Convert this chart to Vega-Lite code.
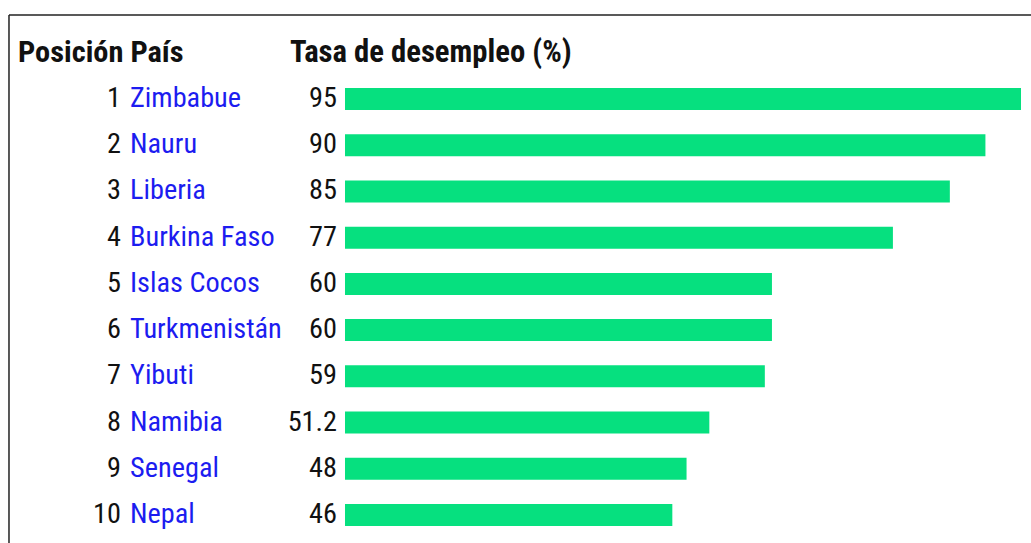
{
  "$schema": "https://vega.github.io/schema/vega-lite/v6.json",
  "width": 1031,
  "height": 543,
  "padding": 0,
  "autosize": {"type": "none"},
  "background": "white",
  "config": {"view": {"stroke": null}},
  "data": {
    "values": [
      {"rank": 1, "country": "Zimbabue", "value": 95, "label": "95"},
      {"rank": 2, "country": "Nauru", "value": 90, "label": "90"},
      {"rank": 3, "country": "Liberia", "value": 85, "label": "85"},
      {"rank": 4, "country": "Burkina Faso", "value": 77, "label": "77"},
      {"rank": 5, "country": "Islas Cocos", "value": 60, "label": "60"},
      {"rank": 6, "country": "Turkmenistán", "value": 60, "label": "60"},
      {"rank": 7, "country": "Yibuti", "value": 59, "label": "59"},
      {"rank": 8, "country": "Namibia", "value": 51.2, "label": "51.2"},
      {"rank": 9, "country": "Senegal", "value": 48, "label": "48"},
      {"rank": 10, "country": "Nepal", "value": 46, "label": "46"}
    ]
  },
  "resolve": {"scale": {"x": "shared", "y": "shared"}},
  "layer": [
    {
      "mark": {"type": "bar", "orient": "horizontal", "height": 22, "color": "#06E07F"},
      "encoding": {
        "y": {"field": "rank", "type": "quantitative", "scale": {"domain": [-1.1419, 10.606], "reverse": true, "nice": false, "zero": false, "padding": 0}, "axis": null},
        "x": {"field": "value", "type": "quantitative", "stack": null, "scale": {"domain": [-48.483, 96.405], "nice": false, "zero": false, "padding": 0}, "axis": null},
        "x2": {"datum": 0}
      }
    },
    {
      "mark": {"type": "text", "align": "right", "baseline": "middle", "font": "Roboto Condensed, DejaVu Sans Condensed, sans-serif", "fontSize": 28.3, "color": "#111111"},
      "encoding": {
        "y": {"field": "rank", "type": "quantitative"},
        "x": {"datum": -31.48},
        "text": {"field": "rank", "type": "nominal"}
      }
    },
    {
      "mark": {"type": "text", "align": "left", "baseline": "middle", "font": "Roboto Condensed, DejaVu Sans Condensed, sans-serif", "fontSize": 28.3, "color": "#1c1cf0"},
      "encoding": {
        "y": {"field": "rank", "type": "quantitative"},
        "x": {"datum": -30.21},
        "text": {"field": "country", "type": "nominal"}
      }
    },
    {
      "mark": {"type": "text", "align": "right", "baseline": "middle", "font": "Roboto Condensed, DejaVu Sans Condensed, sans-serif", "fontSize": 28.3, "color": "#111111"},
      "encoding": {
        "y": {"field": "rank", "type": "quantitative"},
        "x": {"datum": -1.12},
        "text": {"field": "label", "type": "nominal"}
      }
    },
    {
      "data": {"values": [{"t": "Posición País"}]},
      "mark": {"type": "text", "align": "left", "baseline": "middle", "font": "Roboto Condensed, DejaVu Sans Condensed, sans-serif", "fontSize": 30.4, "fontWeight": "bold", "color": "#111111"},
      "encoding": {
        "y": {"datum": 0},
        "x": {"datum": -45.95},
        "text": {"field": "t", "type": "nominal"}
      }
    },
    {
      "data": {"values": [{"t": "Tasa de desempleo (%)"}]},
      "mark": {"type": "text", "align": "left", "baseline": "middle", "font": "Roboto Condensed, DejaVu Sans Condensed, sans-serif", "fontSize": 30.7, "fontWeight": "bold", "color": "#111111"},
      "encoding": {
        "y": {"datum": 0},
        "x": {"datum": -7.73},
        "text": {"field": "t", "type": "nominal"}
      }
    },
    {
      "data": {"values": [{"edge": "top"}]},
      "mark": {"type": "rule", "color": "#222222", "strokeWidth": 1.5},
      "encoding": {
        "y": {"datum": -0.8174},
        "x": {"datum": -47.22},
        "x2": {"datum": 96.405}
      }
    },
    {
      "data": {"values": [{"edge": "left"}]},
      "mark": {"type": "rule", "color": "#222222", "strokeWidth": 1.5},
      "encoding": {
        "x": {"datum": -47.22},
        "y": {"datum": -0.8174},
        "y2": {"datum": 10.606}
      }
    }
  ]
}
